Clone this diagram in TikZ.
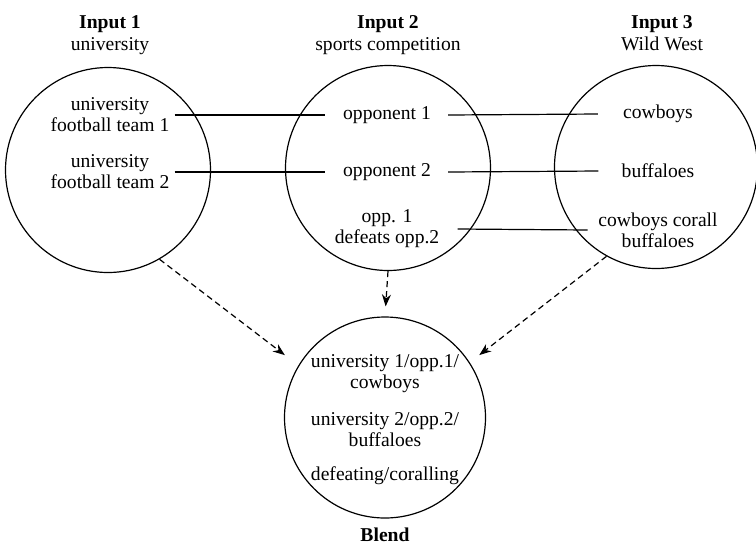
\documentclass[tikz,border=0pt]{standalone}
\usepackage{fontspec}
\setmainfont{Liberation Serif}
\usetikzlibrary{arrows.meta}
\begin{document}
\begin{tikzpicture}[x=0.5pt,y=-0.5pt,
  ring/.style={draw,circle,line width=0.6pt,minimum size=#1,inner sep=0pt},
  txt/.style={font=\fontsize{9.8}{10.5}\selectfont,align=center,inner sep=0pt},
  ttl/.style={font=\fontsize{9.8}{11}\selectfont\bfseries,anchor=base,inner sep=0pt},
  sub/.style={font=\fontsize{9.8}{11}\selectfont,anchor=base,inner sep=0pt},
  link/.style={line width=0.6pt},
  proj/.style={line width=0.6pt,dash pattern=on 3pt off 2pt,-{Stealth[length=6pt,width=4.5pt]}}]
\useasboundingbox (0,0) rectangle (756,543);
% circles
\node[ring=102.5pt] (c1) at (108,170) {};
\node[ring=102.5pt] (c2) at (388,168) {};
\node[ring=101.5pt] (c3) at (656,167) {};
\node[ring=100.5pt] (b) at (385,417.5) {};
% titles
\node[ttl] (t1) at (110,28) {Input 1};
\node[sub] (s1) at (110,50) {university};
\node[ttl] (t2) at (388,28) {Input 2};
\node[sub] (s2) at (388,50) {sports competition};
\node[ttl] (t3) at (662,28) {Input 3};
\node[sub] (s3) at (662,50) {Wild West};
\node[ttl] (tb) at (385,541) {Blend};
% input 1
\node[txt] (u1) at (110,115) {university\\football team 1};
\node[txt] (u2) at (110,172) {university\\football team 2};
% input 2
\node[txt] (o1) at (387,115) {opponent 1};
\node[txt] (o2) at (387,172) {opponent 2};
\node[txt] (o3) at (387,229) {opp. 1\\defeats opp.2};
% input 3
\node[txt] (w1) at (658,114) {cowboys};
\node[txt] (w2) at (658,171) {buffaloes};
\node[txt] (w3) at (658,230) {cowboys corall\\buffaloes};
% blend
\node[txt] (b1) at (385,374) {university 1/opp.1/\\cowboys};
\node[txt] (b2) at (385,430) {university 2/opp.2/\\buffaloes};
\node[txt] (b3) at (385,476) {defeating/coralling};
% cross-space links
\draw[link] ([xshift=2.5pt]u1.east) -- ([xshift=-9pt]o1.west);
\draw[link] ([xshift=2.5pt]u2.east) -- ([xshift=-9pt]o2.west);
\draw[link] ([xshift=8.5pt]o1.east) -- ([xshift=-12.5pt]w1.west);
\draw[link] ([xshift=8.5pt]o2.east) -- ([xshift=-11.5pt]w2.west);
\draw[link] ([xshift=9pt]o3.east) -- ([xshift=-5.2pt]w3.west);
% projections
\draw[proj,shorten >=8.5pt] (c1.-60) -- (b.149);
\draw[proj,shorten >=5pt] (c2.south) -- (b.north);
\draw[proj,shorten >=6pt] (c3.-119) -- (b.33);
\end{tikzpicture}
\end{document}
